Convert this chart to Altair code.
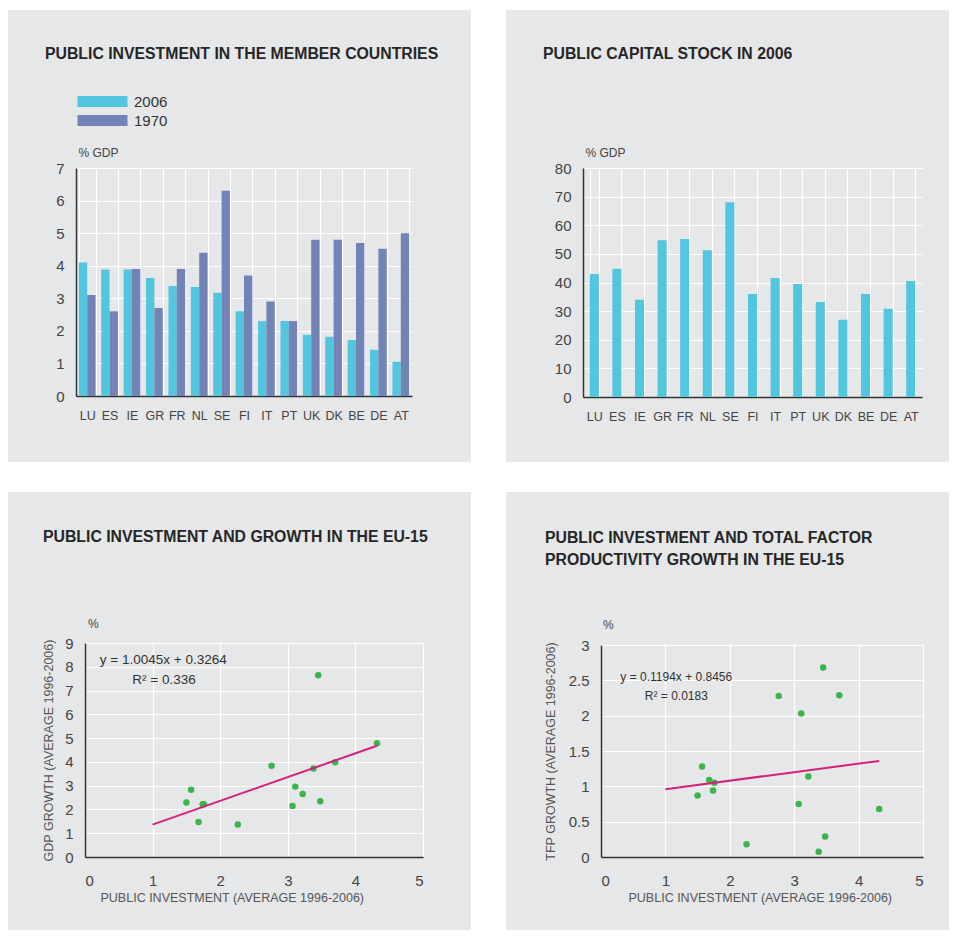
import altair as alt
import pandas as pd

# ---------------- data ----------------
countries = ["LU", "ES", "IE", "GR", "FR", "NL", "SE", "FI", "IT", "PT", "UK", "DK", "BE", "DE", "AT"]
years = ["2006", "1970"]
inv_2006 = [4.1, 3.88, 3.88, 3.62, 3.38, 3.35, 3.17, 2.6, 2.3, 2.3, 1.88, 1.82, 1.72, 1.42, 1.05]
inv_1970 = [3.1, 2.6, 3.9, 2.7, 3.9, 4.4, 6.3, 3.7, 2.9, 2.3, 4.8, 4.8, 4.7, 4.52, 5.0]
capital_stock_2006 = [43, 44.8, 34, 54.8, 55.2, 51.3, 68, 36, 41.6, 39.5, 33.2, 27, 36, 30.8, 40.5]

pub_inv_avg = [1.50, 1.57, 1.68, 1.74, 1.76, 2.26, 2.76, 3.07, 3.11, 3.22, 3.38, 3.45, 3.48, 3.70, 4.32]
gdp_growth = [2.29, 2.83, 1.47, 2.22, 2.22, 1.37, 3.84, 2.15, 2.96, 2.65, 3.72, 7.64, 2.34, 3.98, 4.78]
tfp_growth = [0.87, 1.28, 1.09, 0.94, 1.05, 0.18, 2.28, 0.75, 2.03, 1.14, 0.075, 2.68, 0.29, 2.29, 0.68]

fit_x = [1.0, 4.32]
gdp_fit = [1.36, 4.68]
tfp_fit = [0.96, 1.36]

gdp_eq_text = ["y = 1.0045x + 0.3264", "R² = 0.336"]
gdp_eq_x = [0.22, 0.70]
gdp_eq_y = [8.28, 7.44]
tfp_eq_text = ["y = 0.1194x + 0.8456", "R² = 0.0183"]
tfp_eq_x = [0.30, 0.68]
tfp_eq_y = [2.55, 2.28]

# ---------------- style ----------------
FONT = "Liberation Sans"
BG = "#e6e7e8"
CYAN = "#52c5df"
PURPLE = "#7283b6"
GREEN = "#3ab54a"
MAGENTA = "#d6207a"
TEXT = "#333333"
AXIS_TXT = "#444444"
DOMAIN = "#333333"

title_style = dict(anchor="start", font=FONT, fontSize=15.8, fontWeight="bold",
                   color="#262626", frame="group")

one = pd.DataFrame({"k": [0]})


def white_rect(x1, x2, y1, y2):
    return alt.Chart(one).mark_rect(color="white", strokeWidth=0).encode(
        x=alt.value(x1), x2=alt.value(x2), y=alt.value(y1), y2=alt.value(y2))


def unit_label(txt, x, y):
    return alt.Chart(one).mark_text(align="left", baseline="middle", fontSize=12,
                                    color=AXIS_TXT, font=FONT).encode(
        x=alt.value(x), y=alt.value(y), text=alt.value(txt))


bar_x_axis = alt.Axis(title=None, labelAngle=0, grid=True, tickBand="extent", ticks=False,
                      labelPadding=13, labelFontSize=12.5, labelColor=AXIS_TXT,
                      domainColor=DOMAIN, domainWidth=1.5, gridColor="white", gridWidth=1.2)


def bar_y_axis(values):
    return alt.Axis(values=values, title="% GDP", titleAngle=0, titleAlign="left",
                    titleBaseline="middle", titleX=2, titleY=-16, titleFontSize=12,
                    titleFontWeight="normal", titleColor=AXIS_TXT, labelFontSize=15,
                    labelColor=AXIS_TXT, labelPadding=12, ticks=False, grid=True,
                    gridColor="white", gridWidth=1.2, domainColor=DOMAIN, domainWidth=1.5)


# ---------------- chart 1 ----------------
df1 = pd.DataFrame({
    "country": countries + countries,
    "year": [years[0]] * len(countries) + [years[1]] * len(countries),
    "value": inv_2006 + inv_1970,
})
bars1 = alt.Chart(df1).mark_bar().encode(
    x=alt.X("country:N", sort=countries,
            scale=alt.Scale(paddingInner=0.255, paddingOuter=0.1275), axis=bar_x_axis),
    xOffset=alt.XOffset("year:N", sort=years, scale=alt.Scale(paddingInner=0, paddingOuter=0)),
    y=alt.Y("value:Q", scale=alt.Scale(domain=[0, 7], nice=False),
            axis=bar_y_axis(list(range(0, 8)))),
    color=alt.Color("year:N", sort=years, scale=alt.Scale(domain=years, range=[CYAN, PURPLE]),
                    legend=alt.Legend(title=None, orient="none", legendX=19, legendY=-74,
                                      symbolType="M-5,-1.1H5V1.1H-5Z", symbolSize=100,
                                      symbolStrokeWidth=0, labelFontSize=15, labelOffset=24,
                                      labelColor=TEXT, rowPadding=3, padding=0)),
)
# white gutters between the four grey panels (the page background is grey)
chart1 = alt.layer(
    white_rect(395, 430, -160, 762),
    white_rect(-68, 873, 294, 324),
    white_rect(-68, 873, -160, -158),
    bars1,
).properties(width=336, height=228,
             title=alt.Title("PUBLIC INVESTMENT IN THE MEMBER COUNTRIES", dx=-31, offset=-55,
                             **title_style))

# ---------------- chart 2 ----------------
df2 = pd.DataFrame({"country": countries, "value": capital_stock_2006})
chart2 = alt.Chart(df2).mark_bar(color=CYAN).encode(
    x=alt.X("country:N", sort=countries,
            scale=alt.Scale(paddingInner=0.6, paddingOuter=0.3), axis=bar_x_axis),
    y=alt.Y("value:Q", scale=alt.Scale(domain=[0, 80], nice=False),
            axis=bar_y_axis(list(range(0, 81, 10)))),
).properties(width=339, height=229,
             title=alt.Title("PUBLIC CAPITAL STOCK IN 2006", dx=-40, offset=83, **title_style))


# ---------------- scatter charts ----------------
def scatter(yvals, fit, eq_text, eq_x, eq_y, eq_size, ydomain, yvalues, ytitle,
            xrange, yrange, yoffset, ytitle_x, xtitle_x, pct_xy, width, height, title, dx,
            toffset):
    xaxis = alt.Axis(values=[0, 1, 2, 3, 4, 5], title="PUBLIC INVESTMENT (AVERAGE 1996-2006)",
                     titleX=xtitle_x, titleY=40, titleAlign="left", titleBaseline="middle",
                     titleFontSize=12.5, titleFontWeight="normal", titleColor="#555555",
                     labelFontSize=15, labelColor=AXIS_TXT, labelPadding=16, ticks=False,
                     grid=True, gridColor="white", gridWidth=1.2, domainColor=DOMAIN,
                     domainWidth=1.5)
    yaxis = alt.Axis(values=yvalues, format="~g", title=ytitle, offset=yoffset,
                     titleX=ytitle_x, titleBaseline="middle", titleFontSize=12.5,
                     titleFontWeight="normal", titleColor="#555555", labelFontSize=15,
                     labelColor=AXIS_TXT, labelPadding=12, ticks=False, grid=True,
                     gridColor="white", gridWidth=1.2, domainColor=DOMAIN, domainWidth=1.5)
    xs = alt.Scale(domain=[0, 5], range=xrange, nice=False)
    ys = alt.Scale(domain=ydomain, range=yrange, nice=False)
    X = alt.X("inv:Q", scale=xs, axis=xaxis)
    Y = alt.Y("val:Q", scale=ys, axis=yaxis)
    pts = alt.Chart(pd.DataFrame({"inv": pub_inv_avg, "val": yvals})).mark_circle(
        size=42, color=GREEN, opacity=1).encode(x=X, y=Y)
    line = alt.Chart(pd.DataFrame({"inv": fit_x, "val": fit})).mark_line(
        color=MAGENTA, strokeWidth=2).encode(x=X, y=Y)
    eq = alt.Chart(pd.DataFrame({"inv": eq_x, "val": eq_y, "label": eq_text})).mark_text(
        align="left", baseline="middle", fontSize=eq_size, color=TEXT, font=FONT).encode(
        x=X, y=Y, text="label:N")
    pct = unit_label("%", pct_xy[0], pct_xy[1])
    return alt.layer(pts, line, eq, pct).properties(
        width=width, height=height,
        title=alt.Title(title, dx=dx, offset=toffset, lineHeight=22, **title_style))


chart3 = scatter(gdp_growth, gdp_fit, gdp_eq_text, gdp_eq_x, gdp_eq_y, 13.5, [0, 9],
                 list(range(0, 10)), "GDP GROWTH (AVERAGE 1996-2006)",
                 [9, 347], [214, 0], -9, -37, 24, (12, -19), 347, 214,
                 "PUBLIC INVESTMENT AND GROWTH IN THE EU-15", -33, 72)
chart4 = scatter(tfp_growth, tfp_fit, tfp_eq_text, tfp_eq_x, tfp_eq_y, 12, [0, 3],
                 [0, 0.5, 1, 1.5, 2, 2.5, 3], "TFP GROWTH (AVERAGE 1996-2006)",
                 [18, 340], [214, 2], -18, -51, 45, (20, -18), 340, 214,
                 ["PUBLIC INVESTMENT AND TOTAL FACTOR", "PRODUCTIVITY GROWTH IN THE EU-15"], -38,
                 50)

chart = alt.concat(chart1, chart2, chart3, chart4, columns=2).properties(
    spacing={"row": 246, "column": 160}, bounds="flush", padding=0, background=BG
).configure(font=FONT).configure_view(stroke=None)

chart.save("out.html", embed_options={"renderer": "svg", "actions": False})
